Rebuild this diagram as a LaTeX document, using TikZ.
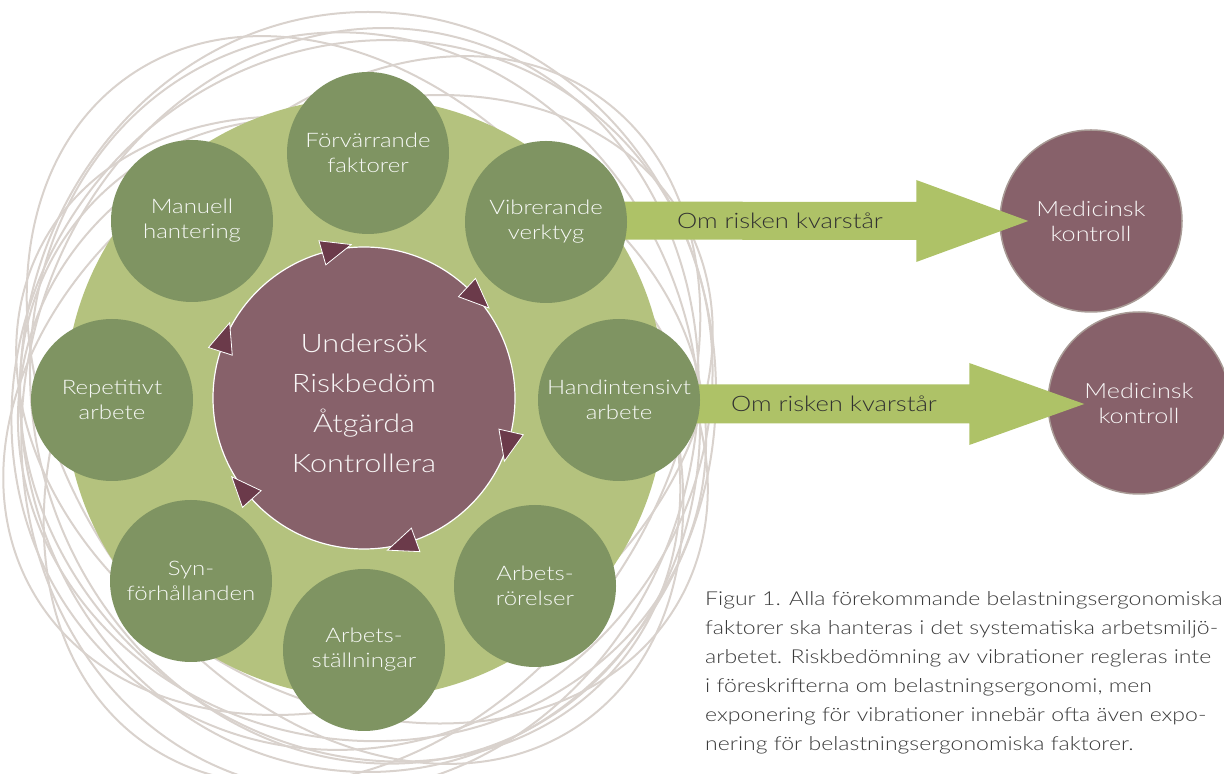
\documentclass[tikz,border=0pt]{standalone}
\usepackage{fontspec}
\setmainfont{Lato}[UprightFont=* Light, FakeStretch=1.2]
\usetikzlibrary{calc}
\definecolor{lgreen}{HTML}{B4C27E}
\definecolor{dgreen}{HTML}{7F9462}
\definecolor{mauve}{HTML}{87616A}
\definecolor{dmauve}{HTML}{6B3A4A}
\definecolor{agreen}{HTML}{AEC267}
\definecolor{ringc}{HTML}{D9D2CD}
\definecolor{capc}{HTML}{3A3A3A}
\definecolor{medline}{HTML}{A89A95}
\begin{document}
\begin{tikzpicture}[x=1pt,y=1pt,
  ringline/.style={draw=ringc, line width=2},
  factor/.style={circle, fill=dgreen, minimum size=162, inner sep=0, align=center,
    text=white!94!dgreen, font=\fontsize{20}{25}\selectfont},
  medc/.style={circle, fill=mauve, draw=medline, line width=1.5, minimum size=182, inner sep=0,
    align=center, text=white!94!mauve, font=\fontsize{21}{25}\selectfont},
  tri/.style={fill=dmauve, draw=white, line width=0.8, line join=miter},
  blockarrow/.style={fill=agreen},
  arrowtext/.style={font=\fontsize{21.3}{25}\selectfont, text=capc!85!black}
]
\useasboundingbox (0,0) rectangle (1224,774);
\clip (0,0) rectangle (1224,774);
% gray rings (centre x, centre y from bottom, radii, rotation)
\foreach \cx/\cy/\rx/\ry/\rot in {368/382/348/380/0, 355/374/290/395/35, 372/354/290/395/-35,
  362/354/280/365/60, 358/369/285/375/-60, 365/376/330/370/20, 360/364/335/385/-15,
  362/344/310/345/80, 362/379/340/365/-40, 350/334/300/350/50}
  \draw[ringline, rotate around={\rot:(\cx,\cy)}] (\cx,\cy) ellipse [x radius=\rx, y radius=\ry];
% big green disc
\node[circle, fill=lgreen, minimum size=600, inner sep=0] (big) at (365,376) {};
% core
\node[circle, fill=mauve, draw=white, line width=1.2, minimum size=302, inner sep=0] (core) at (364,376) {};
\node[align=center, text=white!94!mauve, font=\fontsize{25.5}{40}\selectfont] (coretext) at (364,371)
  {Undersök\\Riskbedöm\\Åtgärda\\Kontrollera};
% cycle triangles
\foreach \a in {106,47,-13,-70,-138,162}
  \draw[tri] ($(core.center)+(\a:163.5)$) -- ($(core.center)+(\a:138.5)$)
     -- ($(core.center)+(\a:151)+(\a-90:30)$) -- cycle;
% medical control circles
\node[medc] (med1) at (1091,553) {Medicinsk\\kontroll};
\node[medc] (med2) at (1139,371) {Medicinsk\\kontroll};
% block arrows
\coordinate (a1s) at (560,553.5);
\coordinate (a1t) at ($(med1.west)+(29,0)$);
\fill[blockarrow] ($(a1s)+(0,19)$) -- ($(a1t)+(-112,19)$) -- ($(a1t)+(-112,41)$) -- (a1t)
  -- ($(a1t)+(-112,-41)$) -- ($(a1t)+(-112,-19)$) -- ($(a1s)+(0,-19)$) -- cycle;
\node[arrowtext] (t1) at (780,553) {Om risken kvarstår};
\coordinate (a2s) at (640,370);
\coordinate (a2t) at ($(med2.west)+(37,-1)$);
\fill[blockarrow] ($(a2s)+(0,19.5)$) -- ($(a2t)+(-115,19.5)$) -- ($(a2t)+(-115,41)$) -- (a2t)
  -- ($(a2t)+(-115,-41)$) -- ($(a2t)+(-115,-19.5)$) -- ($(a2s)+(0,-19.5)$) -- cycle;
\node[arrowtext] (t2) at (834,370) {Om risken kvarstår};
% factor circles
\node[factor] (forv) at (368,621) {Förvärrande\\faktorer};
\node[factor] (vib) at (546,552) {Vibrerande\\verktyg};
\node[factor] (hand) at (619,374) {Handintensivt\\arbete};
\node[factor] (rorel) at (535,188) {Arbets-\\rörelser};
\node[factor] (stall) at (364,124) {Arbets-\\ställningar};
\node[factor] (syn) at (191,193) {Syn-\\förhållanden};
\node[factor] (rep) at (112,374) {Repetitivt\\arbete};
\node[factor] (man) at (192,553) {Manuell\\hantering};
% caption
\node[anchor=north west, align=left, inner sep=0, text=capc, font=\fontsize{19.2}{29}\selectfont] (caption) at (705,183)
 {Figur 1. Alla förekommande belastningsergonomiska\\
  faktorer ska hanteras i det systematiska arbetsmiljö-\\
  arbetet. Riskbedömning av vibrationer regleras inte\\
  i föreskrifterna om belastningsergonomi, men\\
  exponering för vibrationer innebär ofta även expo-\\
  nering för belastningsergonomiska faktorer.};
\end{tikzpicture}
\end{document}
